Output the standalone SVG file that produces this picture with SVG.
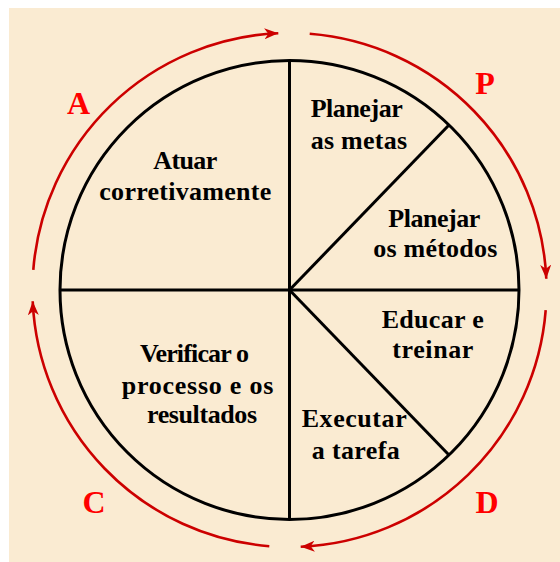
<svg xmlns="http://www.w3.org/2000/svg" width="560" height="562" viewBox="0 0 560 562">
  <style>
    .lbl { font-family: "Liberation Serif", "Times New Roman", serif; font-weight: bold; font-size: 26px; fill: #000; }
    .ltr { font-family: "Liberation Serif", "Times New Roman", serif; font-weight: bold; font-size: 32px; fill: #FF0000; text-anchor: middle; }
    .wheel { fill: none; stroke: #000; stroke-width: 3; }
    .cyc { fill: none; stroke: #CC0000; stroke-width: 2.6; marker-end: url(#arr); }
  </style>
  <defs>
    <marker id="arr" markerUnits="userSpaceOnUse" markerWidth="15" markerHeight="11" refX="14" refY="5.5" orient="auto">
      <path d="M0,0 L14,5.5 L0,11 L4,5.5 z" fill="#CC0000"/>
    </marker>
  </defs>
  <rect x="0" y="0" width="560" height="562" fill="#FFFFFF"/>
  <rect x="9" y="8" width="551" height="554" fill="#FAEBD2"/>

  <g id="wheel">
    <circle class="wheel" cx="289.5" cy="290" r="229.5"/>
    <line class="wheel" x1="289.5" y1="60.5" x2="289.5" y2="519.5"/>
    <line class="wheel" x1="60" y1="290" x2="519" y2="290"/>
    <line class="wheel" x1="289.5" y1="290" x2="448.5" y2="125.5"/>
    <line class="wheel" x1="289.5" y1="290" x2="448.5" y2="454.5"/>
  </g>

  <g id="connectors">
    <path class="cyc" d="M33.3,269.8 A257,257 0 0 1 278.3,33.2"/>
    <path class="cyc" d="M309.7,33.8 A257,257 0 0 1 546.3,278.8"/>
    <path class="cyc" d="M545.7,310.2 A257,257 0 0 1 300.7,546.8"/>
    <path class="cyc" d="M269.3,546.2 A257,257 0 0 1 32.7,301.2"/>
  </g>

  <g id="letter-A"><text class="ltr" x="78.5" y="114">A</text></g>
  <g id="letter-P"><text class="ltr" x="485" y="94">P</text></g>
  <g id="letter-C"><text class="ltr" x="94" y="513">C</text></g>
  <g id="letter-D"><text class="ltr" x="487" y="513">D</text></g>

  <g id="node-atuar">
    <text class="lbl" x="153.3" y="169" textLength="64" lengthAdjust="spacing">Atuar</text>
    <text class="lbl" x="99.3" y="200" textLength="172" lengthAdjust="spacing">corretivamente</text>
  </g>
  <g id="node-planejar-metas">
    <text class="lbl" x="310.7" y="117" textLength="92" lengthAdjust="spacing">Planejar</text>
    <text class="lbl" x="310.7" y="149" textLength="96.5" lengthAdjust="spacing">as metas</text>
  </g>
  <g id="node-planejar-metodos">
    <text class="lbl" x="388.3" y="227.3" textLength="92" lengthAdjust="spacing">Planejar</text>
    <text class="lbl" x="373.3" y="256.7" textLength="124" lengthAdjust="spacing">os métodos</text>
  </g>
  <g id="node-educar">
    <text class="lbl" x="381.7" y="328.3" textLength="102" lengthAdjust="spacing">Educar e</text>
    <text class="lbl" x="392.3" y="358.3" textLength="81" lengthAdjust="spacing">treinar</text>
  </g>
  <g id="node-verificar">
    <text class="lbl" x="140" y="362.3" textLength="109" lengthAdjust="spacing">Verificar o</text>
    <text class="lbl" x="121.7" y="394" textLength="151.6" lengthAdjust="spacing">processo e os</text>
    <text class="lbl" x="147" y="422.7" textLength="110" lengthAdjust="spacing">resultados</text>
  </g>
  <g id="node-executar">
    <text class="lbl" x="301.7" y="427.3" textLength="105" lengthAdjust="spacing">Executar</text>
    <text class="lbl" x="311.7" y="459" textLength="88" lengthAdjust="spacing">a tarefa</text>
  </g>
</svg>
